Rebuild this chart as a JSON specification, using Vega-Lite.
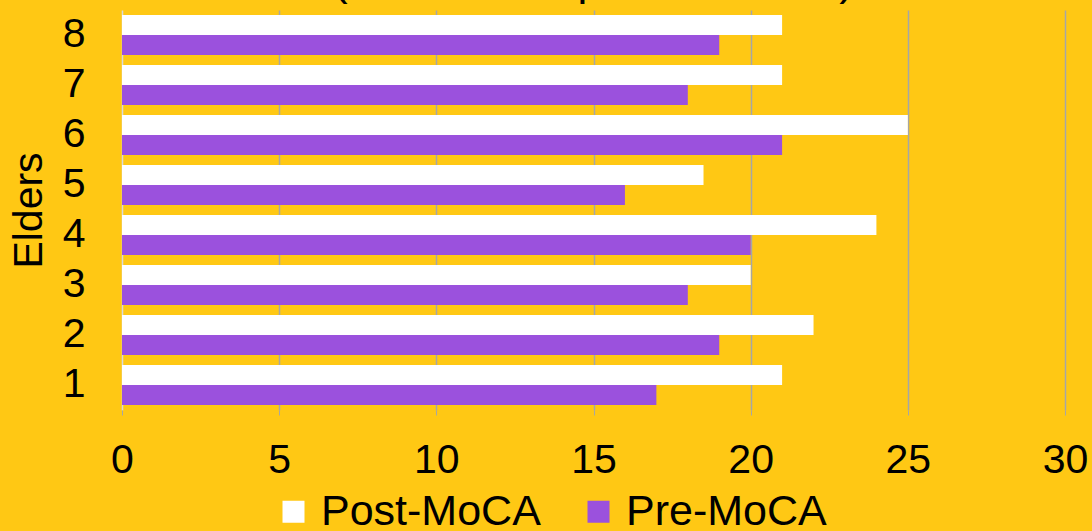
{
  "$schema": "https://vega.github.io/schema/vega-lite/v6.json",
  "autosize": {"type": "none"},
  "padding": {"left": 122, "top": 10, "right": 27, "bottom": 121},
  "width": 943,
  "height": 400,
  "background": "#FFC814",
  "title": {"text": "(Elders Compared Scores)", "fontSize": 44, "font": "Liberation Sans", "fontWeight": "normal", "color": "#000000", "offset": 2, "dy": -4, "anchor": "middle"},
  "config": {
    "view": {"stroke": null},
    "font": "Liberation Sans",
    "axis": {"labelFont": "Liberation Sans", "titleFont": "Liberation Sans", "labelColor": "#000000", "titleColor": "#000000"}
  },
  "data": {
    "values": [
      {"elder": "1", "test": "Post-MoCA", "score": 21},
      {"elder": "1", "test": "Pre-MoCA", "score": 17},
      {"elder": "2", "test": "Post-MoCA", "score": 22},
      {"elder": "2", "test": "Pre-MoCA", "score": 19},
      {"elder": "3", "test": "Post-MoCA", "score": 20},
      {"elder": "3", "test": "Pre-MoCA", "score": 18},
      {"elder": "4", "test": "Post-MoCA", "score": 24},
      {"elder": "4", "test": "Pre-MoCA", "score": 20},
      {"elder": "5", "test": "Post-MoCA", "score": 18.5},
      {"elder": "5", "test": "Pre-MoCA", "score": 16},
      {"elder": "6", "test": "Post-MoCA", "score": 25},
      {"elder": "6", "test": "Pre-MoCA", "score": 21},
      {"elder": "7", "test": "Post-MoCA", "score": 21},
      {"elder": "7", "test": "Pre-MoCA", "score": 18},
      {"elder": "8", "test": "Post-MoCA", "score": 21},
      {"elder": "8", "test": "Pre-MoCA", "score": 19}
    ]
  },
  "mark": {"type": "bar"},
  "encoding": {
    "y": {
      "field": "elder", "type": "nominal",
      "sort": ["8", "7", "6", "5", "4", "3", "2", "1"],
      "scale": {"paddingInner": 0.2, "paddingOuter": 0.1},
      "axis": {"title": "Elders", "titleFontSize": 41, "titleFontWeight": "normal", "titlePadding": 12, "labelFontSize": 41, "labelPadding": 37, "ticks": false, "domain": false, "grid": false, "labelAngle": 0}
    },
    "yOffset": {"field": "test", "type": "nominal", "sort": ["Post-MoCA", "Pre-MoCA"], "scale": {"paddingInner": 0}},
    "x": {
      "field": "score", "type": "quantitative",
      "scale": {"domain": [0, 30], "nice": false},
      "axis": {"title": null, "values": [0, 5, 10, 15, 20, 25, 30], "labelFontSize": 41, "labelPadding": 25, "domain": false, "ticks": true, "tickSize": 5, "tickColor": "#A6A6A6", "grid": true,
        "gridColor": {"condition": {"test": "datum.value === 0", "value": "#D9D9D9"}, "value": "#A6A6A6"},
        "gridWidth": 1.5, "labelFlush": false}
    },
    "color": {
      "field": "test", "type": "nominal",
      "scale": {"domain": ["Post-MoCA", "Pre-MoCA"], "range": ["#FFFFFF", "#9B51DD"]},
      "legend": {"title": null, "orient": "none", "direction": "horizontal", "legendX": 150, "legendY": 480, "labelFontSize": 43, "labelLimit": 0, "labelFont": "Liberation Sans", "labelColor": "#000000", "symbolType": "square", "symbolSize": 484, "symbolStrokeWidth": 0, "columnPadding": 36, "labelOffset": 6}
    }
  }
}
